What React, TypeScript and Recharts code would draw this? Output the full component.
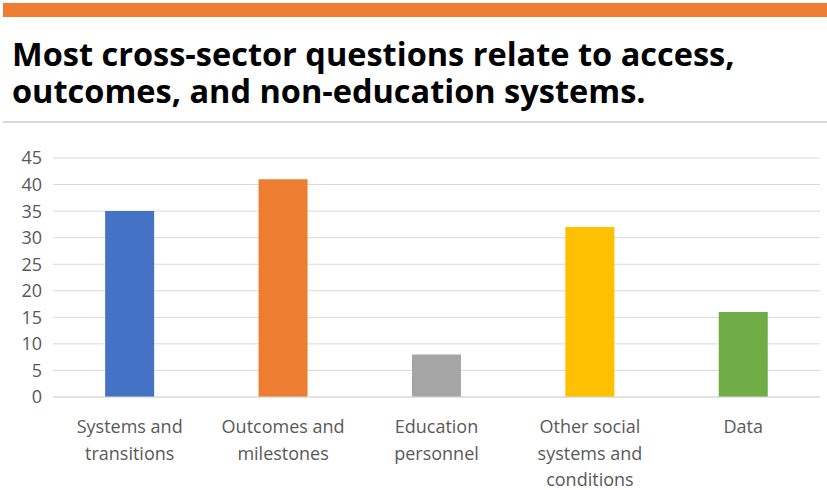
import { Bar, BarChart, CartesianGrid, Cell, XAxis, YAxis } from 'recharts'

const categories = ['Systems and transitions', 'Outcomes and milestones', 'Education personnel', 'Other social systems and conditions', 'Data']
const tickLines = [
  ['Systems and', 'transitions'],
  ['Outcomes and', 'milestones'],
  ['Education', 'personnel'],
  ['Other social', 'systems and', 'conditions'],
  ['Data'],
]
const questionCounts = [35, 41, 8, 32, 16]
const barColors = ['#4472C4', '#ED7D31', '#A5A5A5', '#FFC000', '#70AD47']
const yTicks = [0, 5, 10, 15, 20, 25, 30, 35, 40, 45]

const data = categories.map((name, i) => ({ name, value: questionCounts[i] }))

const FONT = "'Open Sans', 'Noto Sans', sans-serif"

function CategoryTick({ x, y, payload }: any) {
  const lines = tickLines[payload.index] ?? [payload.value]
  return (
    <text x={x} y={y + 28} textAnchor='middle' fill='#595959' fontSize={18} fontFamily={FONT}>
      {lines.map((line, i) => (
        <tspan key={i} x={x} dy={i === 0 ? 0 : 26.5}>{line}</tspan>
      ))}
    </text>
  )
}

function App() {
  return (
    <div style={{ position: 'absolute', top: 0, left: 0, width: 827, height: 490, background: '#fff', fontFamily: FONT }}>
      <div style={{ position: 'absolute', top: 3, left: 3, width: 824, height: 14, background: '#ED7D31' }} />
      <div style={{ position: 'absolute', top: 35, left: 12, fontWeight: 700, fontSize: 32.5, lineHeight: '37px', color: '#000', whiteSpace: 'nowrap' }}>
        Most cross-sector questions relate to access,<br />
        outcomes, and non-education systems.
      </div>
      <div style={{ position: 'absolute', top: 121, left: 3, width: 824, height: 2, background: '#d9d9d9' }} />
      <div style={{ position: 'absolute', top: 140, left: 0 }}>
        <BarChart width={827} height={350} data={data} margin={{ top: 18, right: 7, bottom: 0, left: 0 }} barCategoryGap='34%'>
          <CartesianGrid vertical={false} stroke='#d9d9d9' />
          <XAxis dataKey='name' axisLine={{ stroke: '#d9d9d9' }} tickLine={false} height={93} interval={0} tick={<CategoryTick />} />
          <YAxis domain={[0, 45]} ticks={yTicks} width={53} axisLine={false} tickLine={false} tickSize={0} tickMargin={11}
            tick={{ fill: '#595959', fontSize: 18, fontFamily: FONT }} />
          <Bar dataKey='value' isAnimationActive={false}>
            {data.map((d, i) => (
              <Cell key={d.name} fill={barColors[i]} />
            ))}
          </Bar>
        </BarChart>
      </div>
    </div>
  )
}

export default App
